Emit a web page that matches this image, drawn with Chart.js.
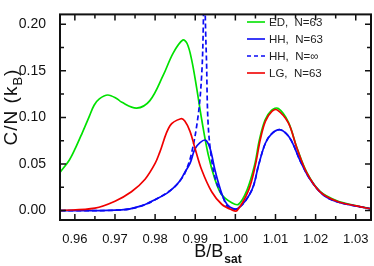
<!DOCTYPE html>
<html><head><meta charset="utf-8">
<script src="https://cdn.jsdelivr.net/npm/chart.js@4/dist/chart.umd.min.js"></script>
<style>html,body{margin:0;padding:0;background:#fff;}#wrap{width:374px;height:266px;position:relative;}</style>
</head><body><div id="wrap"><canvas id="c" width="374" height="266"></canvas></div>
<script>
// ---- data ----
const edX = [0.9563,0.9586,0.9602,0.9619,0.9636,0.9648,0.9661,0.9682,0.9706,0.9716,0.9754,0.9787,0.9820,0.9845,0.9869,0.9880,0.9891,0.9903,0.9916,0.9932,0.9949,0.9966,0.9991,1.0008,1.0029,1.0048,1.0060,1.0074,1.0090,1.0107,1.0132,1.0153,1.0178,1.0211,1.0253,1.0302,1.0340];
const edY = [0.041,0.054,0.0675,0.084,0.101,0.113,0.1198,0.124,0.1198,0.1164,0.110,0.118,0.145,0.169,0.183,0.179,0.162,0.133,0.098,0.0607,0.0337,0.0169,0.0084,0.0068,0.022,0.049,0.076,0.097,0.1075,0.1096,0.095,0.068,0.041,0.0205,0.0105,0.0052,0.0018];

const hhX = [0.9563,0.9716,0.9766,0.9808,0.9829,0.9845,0.9862,0.9874,0.9887,0.9899,0.9912,0.9926,0.9937,0.9949,0.9962,0.9974,0.9987,1.0007,1.0041,1.0058,1.0075,1.0091,1.0112,1.0136,1.0161,1.0186,1.0219,1.0253,1.0302,1.0340];
const hhY = [0.0,0.0007,0.005,0.0135,0.0185,0.024,0.032,0.041,0.0506,0.066,0.073,0.0755,0.0665,0.0438,0.0236,0.0101,0.0035,0.0025,0.022,0.049,0.0725,0.0827,0.0867,0.0776,0.054,0.0337,0.0169,0.0095,0.0048,0.0017];

const hhInfX = [0.9563,0.9716,0.9766,0.9808,0.9845,0.9862,0.9874,0.9890,0.9907,0.9916,0.9920,0.99215,0.99225,0.9926,0.9928,0.9932,0.9941,0.9953,0.9970,0.9982,1.0007,1.0041,1.0058,1.0075,1.0091,1.0112,1.0136,1.0161,1.0186,1.0219,1.0253,1.0302,1.0340];
const hhInfY = [0.0,0.0007,0.005,0.0135,0.024,0.032,0.040,0.060,0.101,0.145,0.196,0.26,0.26,0.19,0.162,0.094,0.054,0.030,0.0135,0.0034,0.0025,0.022,0.049,0.0725,0.0827,0.0867,0.0776,0.054,0.0337,0.0169,0.0095,0.0048,0.0017];

const lgX = [0.9563,0.9650,0.9700,0.9741,0.9775,0.9800,0.9812,0.9837,0.9864,0.9874,0.9887,0.9899,0.9916,0.9941,0.9966,0.9991,1.0004,1.0033,1.0050,1.0062,1.0075,1.0091,1.0104,1.0132,1.0153,1.0178,1.0211,1.0253,1.0302,1.0340];
const lgY = [0.0,0.0027,0.0101,0.0202,0.0337,0.0506,0.063,0.091,0.0985,0.096,0.085,0.0675,0.0438,0.0202,0.0068,0.0008,0.0,0.022,0.049,0.076,0.096,0.1065,0.108,0.094,0.0675,0.0405,0.0202,0.0101,0.005,0.0017];

const xTicks = [0.96,0.97,0.98,0.99,1.00,1.01,1.02,1.03];
const yTicks = [0.00,0.05,0.10,0.15,0.20];
const xMinor = [0.965,0.975,0.985,0.995,1.005,1.015,1.025];
const yMinor = [0.025,0.075,0.125,0.175];
const legendLabels = ["ED,  N=63","HH,  N=63","HH,  N=\u221E","LG,  N=63"];

const GREEN='rgb(0,225,0)', BLUE='rgb(10,10,245)', RED='rgb(240,0,0)';
const pts=(xs,ys)=>xs.map((x,i)=>({x:x,y:ys[i]}));
const FONT='"Liberation Sans", Arial, Helvetica, sans-serif';

const framePlugin = {
  id:'frame',
  afterDatasetsDraw(chart){
    const {ctx, chartArea:a, scales:{x,y}} = chart;
    ctx.save();
    ctx.strokeStyle='#111'; ctx.lineWidth=1.5;
    ctx.beginPath();
    const tick=(px,len,vert)=>{
      if(vert){ ctx.moveTo(px,a.bottom); ctx.lineTo(px,a.bottom-len); ctx.moveTo(px,a.top); ctx.lineTo(px,a.top+len);}
      else { ctx.moveTo(a.left,px); ctx.lineTo(a.left+len,px); ctx.moveTo(a.right,px); ctx.lineTo(a.right-len,px);}
    };
    xTicks.forEach(v=>tick(x.getPixelForValue(v),6,true));
    xMinor.forEach(v=>tick(x.getPixelForValue(v),4,true));
    yTicks.forEach(v=>tick(y.getPixelForValue(v),6,false));
    yMinor.forEach(v=>tick(y.getPixelForValue(v),4,false));
    ctx.stroke();
    ctx.lineWidth=2;
    ctx.strokeRect(a.left,a.top,a.right-a.left,a.bottom-a.top);
    // legend
    const cols=[GREEN,BLUE,BLUE,RED];
    ctx.font='11.5px '+FONT; ctx.textBaseline='middle'; ctx.fillStyle='#222';
    legendLabels.forEach((t,i)=>{
      const yy=22+i*17;
      ctx.beginPath(); ctx.strokeStyle=cols[i]; ctx.lineWidth=1.6;
      ctx.setLineDash(i===2?[4,3]:[]);
      ctx.moveTo(247,yy); ctx.lineTo(265,yy); ctx.stroke();
      ctx.setLineDash([]);
      ctx.fillText(t,269,yy+0.5);
    });
    // axis titles
    ctx.fillStyle='#111'; ctx.textBaseline='alphabetic';
    ctx.font='18px '+FONT;
    const main='B/B'; const w1=ctx.measureText(main).width;
    ctx.font='bold 12px '+FONT; const w2=ctx.measureText('sat').width;
    let sx=(a.left+a.right)/2-(w1+w2)/2+2;
    ctx.font='18px '+FONT; ctx.fillText(main,sx,257);
    ctx.font='bold 12px '+FONT; ctx.fillText('sat',sx+w1+1,263);
    ctx.save();
    ctx.translate(17,107); ctx.rotate(-Math.PI/2);
    ctx.letterSpacing='1px';
    ctx.font='19px '+FONT;
    const p1='C/N (k', p3=')';
    const wp1=ctx.measureText(p1).width; ctx.font='13px '+FONT; const wb=ctx.measureText('B').width;
    ctx.font='19px '+FONT; const wp3=ctx.measureText(p3).width;
    const tot=wp1+wb+wp3; let tx=-tot/2;
    ctx.fillText(p1,tx,0); tx+=wp1;
    ctx.font='13px '+FONT; ctx.fillText('B',tx,5); tx+=wb;
    ctx.font='19px '+FONT; ctx.fillText(p3,tx,0);
    ctx.restore();
    ctx.restore();
  }
};

new Chart(document.getElementById('c'),{
  type:'scatter',
  data:{datasets:[
    {label:'ED', data:pts(edX,edY), borderColor:GREEN, order:3},
    {label:'HHinf', data:pts(hhInfX,hhInfY), borderColor:BLUE, borderDash:[5,3], order:2},
    {label:'HH', data:pts(hhX,hhY), borderColor:BLUE, order:1},
    {label:'LG', data:pts(lgX,lgY), borderColor:RED, order:0}
  ].map(d=>Object.assign(d,{showLine:true, pointRadius:0, borderWidth:1.7, tension:0.35, fill:false}))},
  plugins:[framePlugin],
  options:{
    responsive:false, animation:false, devicePixelRatio:1,
    layout:{padding:{top:2,right:3,left:0,bottom:0}},
    plugins:{legend:{display:false}, tooltip:{enabled:false}},
    scales:{
      x:{type:'linear', min:0.9563, max:1.0338,
        afterBuildTicks:s=>{s.ticks=xTicks.map(v=>({value:v}));},
        afterFit:s=>{s.height=46;},
        grid:{display:false}, border:{display:false},
        ticks:{font:{size:13,family:FONT}, color:'#111', padding:4, maxRotation:0, autoSkip:false, callback:v=>Number(v).toFixed(2)}},
      y:{type:'linear', min:-0.0101, max:0.2105,
        afterBuildTicks:s=>{s.ticks=yTicks.map(v=>({value:v}));},
        afterFit:s=>{s.width=60;},
        grid:{display:false}, border:{display:false},
        ticks:{font:{size:14,family:FONT}, color:'#111', padding:6, callback:v=>Number(v).toFixed(2)}}
    }
  }
});
</script></body></html>
